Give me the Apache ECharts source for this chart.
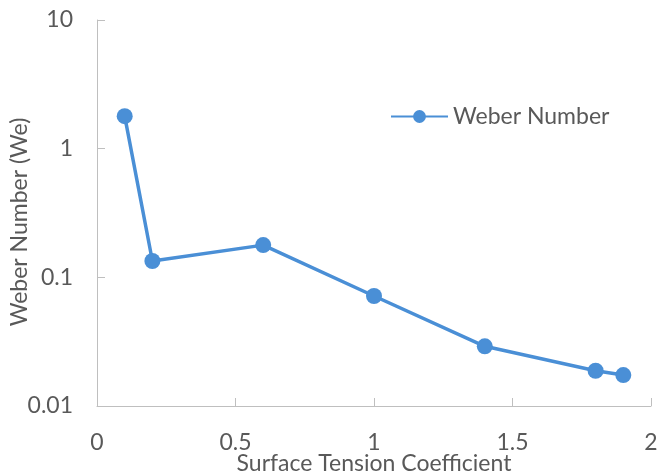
<!DOCTYPE html>
<html><head><meta charset="utf-8">
<script src="https://cdn.jsdelivr.net/npm/echarts@6/dist/echarts.min.js"></script>
<style>html,body{margin:0;padding:0;background:#fff;overflow:hidden}#c{width:657px;height:474px}</style>
</head><body><div id="c"></div>
<script>
const xValues = [0.1, 0.2, 0.6, 1.0, 1.4, 1.8, 1.9];
const weber = [1.79, 0.134, 0.178, 0.0716, 0.0291, 0.0188, 0.0174];
const seriesName = 'Weber Number';
const xTitle = 'Surface Tension Coefficient';
const yTitle = 'Weber Number (We)';

const font = 'Lato, "Open Sans", sans-serif';
const txt = '#595959';
const axisCol = '#BFBFBF';
const chart = echarts.init(document.getElementById('c'));
chart.setOption({
  animation: false,
  grid: {left: 97, right: 6, top: 20, bottom: 68, containLabel: false, outerBoundsMode: 'none'},
  legend: {
    left: 385, top: 100, itemWidth: 57, itemHeight: 16, itemGap: 6,
    textStyle: {fontFamily: font, fontSize: 23, color: txt},
    data: [seriesName]
  },
  xAxis: {
    type: 'value', min: 0, max: 2, interval: 0.5,
    name: xTitle, nameLocation: 'middle', nameGap: 46, nameMoveOverlap: false,
    nameTextStyle: {fontFamily: font, fontSize: 23, color: txt},
    axisLine: {lineStyle: {color: axisCol, width: 1}},
    axisTick: {show: true, inside: true, length: 8, lineStyle: {color: axisCol}},
    axisLabel: {fontFamily: font, fontSize: 23, color: txt, margin: 25},
    splitLine: {show: false}
  },
  yAxis: {
    type: 'log', logBase: 10, min: 0.01, max: 10,
    name: yTitle, nameLocation: 'middle', nameGap: 66, nameMoveOverlap: false,
    nameTextStyle: {fontFamily: font, fontSize: 23, color: txt, padding: [0, 18, 0, 0]},
    axisLine: {show: true, lineStyle: {color: axisCol, width: 1}},
    axisTick: {show: true, inside: true, length: 8, lineStyle: {color: axisCol}},
    axisLabel: {fontFamily: font, fontSize: 23, color: txt, margin: 24,
      formatter: v => String(+v.toPrecision(3))},
    splitLine: {show: false},
    minorTick: {show: false}
  },
  series: [{
    name: seriesName, type: 'line',
    data: xValues.map((x, i) => [x, weber[i]]),
    symbol: 'circle', symbolSize: 16,
    lineStyle: {color: '#4A8FD6', width: 3.5},
    itemStyle: {color: '#4A8FD6'}
  }]
});
</script></body></html>
